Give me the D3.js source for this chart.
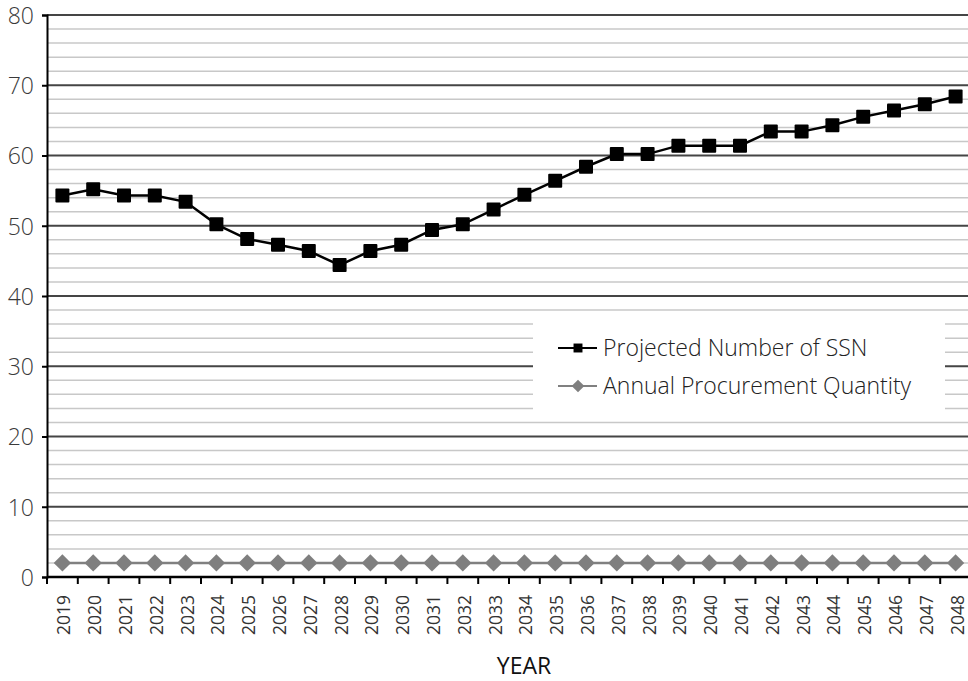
<!DOCTYPE html>
<html>
<head>
<meta charset="utf-8">
<script src="https://cdn.jsdelivr.net/npm/d3@7"></script>
<style>
  body { margin: 0; background: #fff; }
  svg { display: block; overflow: hidden; }
</style>
</head>
<body>
<div id="chart"></div>
<script>
// Datos
const years = ["2019","2020","2021","2022","2023","2024","2025","2026","2027","2028",
  "2029","2030","2031","2032","2033","2034","2035","2036","2037","2038",
  "2039","2040","2041","2042","2043","2044","2045","2046","2047","2048"];
const ssnValues = [54.3, 55.2, 54.3, 54.3, 53.4, 50.2, 48.1, 47.3, 46.4, 44.4,
  46.4, 47.3, 49.4, 50.2, 52.3, 54.4, 56.4, 58.4, 60.2, 60.2,
  61.4, 61.4, 61.4, 63.4, 63.4, 64.3, 65.5, 66.4, 67.3, 68.4];
const procurementValues = [2, 2, 2, 2, 2, 2, 2, 2, 2, 2,
  2, 2, 2, 2, 2, 2, 2, 2, 2, 2,
  2, 2, 2, 2, 2, 2, 2, 2, 2, 2];
const yMajorTicks = [0, 10, 20, 30, 40, 50, 60, 70, 80];
const seriesNames = ["Projected Number of SSN", "Annual Procurement Quantity"];

const width = 968, height = 681;
const margin = { top: 15, right: -3, bottom: 104, left: 47 };
const w = width - margin.left - margin.right;
const h = height - margin.top - margin.bottom;
const font = "'Open Sans', sans-serif";

const svg = d3.select("#chart").append("svg")
  .attr("width", width).attr("height", height)
  .append("g")
  .attr("transform", `translate(${margin.left},${margin.top})`);

const x = d3.scaleBand().domain(years).range([0, w]).padding(0);
const y = d3.scaleLinear().domain([0, 80]).range([h, 0]);
const cx = d => x(d) + x.bandwidth() / 2;

// Rejilla menor cada 2 unidades
svg.append("g")
  .selectAll("line")
  .data(d3.range(2, 80, 2).filter(v => v % 10 !== 0))
  .enter().append("line")
  .attr("x1", 0).attr("x2", w)
  .attr("y1", d => y(d)).attr("y2", d => y(d))
  .attr("stroke", "#c8c8c8").attr("stroke-width", 1.5);

// Rejilla mayor
svg.append("g")
  .selectAll("line")
  .data(yMajorTicks.filter(v => v > 0))
  .enter().append("line")
  .attr("x1", 0).attr("x2", w)
  .attr("y1", d => y(d)).attr("y2", d => y(d))
  .attr("stroke", "#454545").attr("stroke-width", 2);

// Eje Y
const yAxis = svg.append("g")
  .call(d3.axisLeft(y).tickValues(yMajorTicks).tickSize(5).tickPadding(8));
yAxis.select(".domain").attr("stroke", "#000").attr("stroke-width", 2);
yAxis.selectAll(".tick line").attr("stroke", "#000").attr("stroke-width", 2);
yAxis.selectAll("text")
  .attr("dy", "0.36em")
  .style("font-family", font)
  .style("font-size", "23px")
  .style("font-weight", "300")
  .style("fill", "#3a3a3a");

// Eje X con ticks en los límites de cada categoría
const xAxisG = svg.append("g").attr("transform", `translate(0,${h})`);
xAxisG.append("line")
  .attr("x1", 0).attr("x2", w)
  .attr("stroke", "#000").attr("stroke-width", 2.5);
xAxisG.selectAll(".xtick")
  .data(years)
  .enter().append("line")
  .attr("x1", d => x(d)).attr("x2", d => x(d))
  .attr("y1", 0).attr("y2", 7)
  .attr("stroke", "#000").attr("stroke-width", 2);
xAxisG.selectAll(".xlabel")
  .data(years)
  .enter().append("text")
  .attr("transform", d => `translate(${cx(d) + 8},${18}) rotate(-90)`)
  .attr("text-anchor", "end")
  .style("font-family", font)
  .style("font-size", "17.5px")
  .style("fill", "#333")
  .text(d => d);

svg.append("text")
  .attr("x", 524 - margin.left)
  .attr("y", 674 - margin.top)
  .attr("text-anchor", "middle")
  .style("font-family", font)
  .style("font-size", "23px")
  .style("fill", "#111")
  .text("YEAR");

// Series
const line = d3.line().x((d, i) => cx(years[i])).y(d => y(d));

svg.append("path").datum(procurementValues)
  .attr("d", line).attr("fill", "none")
  .attr("stroke", "#808080").attr("stroke-width", 2.5);
svg.append("g").selectAll("path")
  .data(procurementValues).enter().append("path")
  .attr("d", d3.symbol(d3.symbolSquare, 150))
  .attr("transform", (d, i) => `translate(${cx(years[i])},${y(d)}) rotate(45)`)
  .attr("fill", "#7f7f7f");

svg.append("path").datum(ssnValues)
  .attr("d", line).attr("fill", "none")
  .attr("stroke", "#000").attr("stroke-width", 2.5);
svg.append("g").selectAll("rect")
  .data(ssnValues).enter().append("rect")
  .attr("x", (d, i) => cx(years[i]) - 7)
  .attr("y", d => y(d) - 7)
  .attr("width", 14).attr("height", 14)
  .attr("rx", 1)
  .attr("fill", "#000");

// Leyenda
const legend = svg.append("g").attr("transform", `translate(${533 - margin.left},${313 - margin.top})`);
legend.append("rect")
  .attr("width", 412).attr("height", 105)
  .attr("fill", "#fff");

const legendRows = legend.selectAll(".row")
  .data(seriesNames)
  .enter().append("g")
  .attr("transform", (d, i) => `translate(0,${35 + i * 38})`);

legendRows.append("line")
  .attr("x1", 25).attr("x2", 64)
  .attr("stroke", (d, i) => i === 0 ? "#000" : "#808080")
  .attr("stroke-width", 2);
legendRows.append("path")
  .attr("d", d3.symbol(d3.symbolSquare, 80))
  .attr("transform", (d, i) => `translate(45,0) rotate(${i === 0 ? 0 : 45})`)
  .attr("fill", (d, i) => i === 0 ? "#000" : "#7f7f7f");
legendRows.append("text")
  .attr("x", 70)
  .attr("y", 8)
  .style("font-family", font)
  .style("font-size", "23px")
  .style("font-weight", "300")
  .style("fill", "#222")
  .text(d => d);
</script>
</body>
</html>
